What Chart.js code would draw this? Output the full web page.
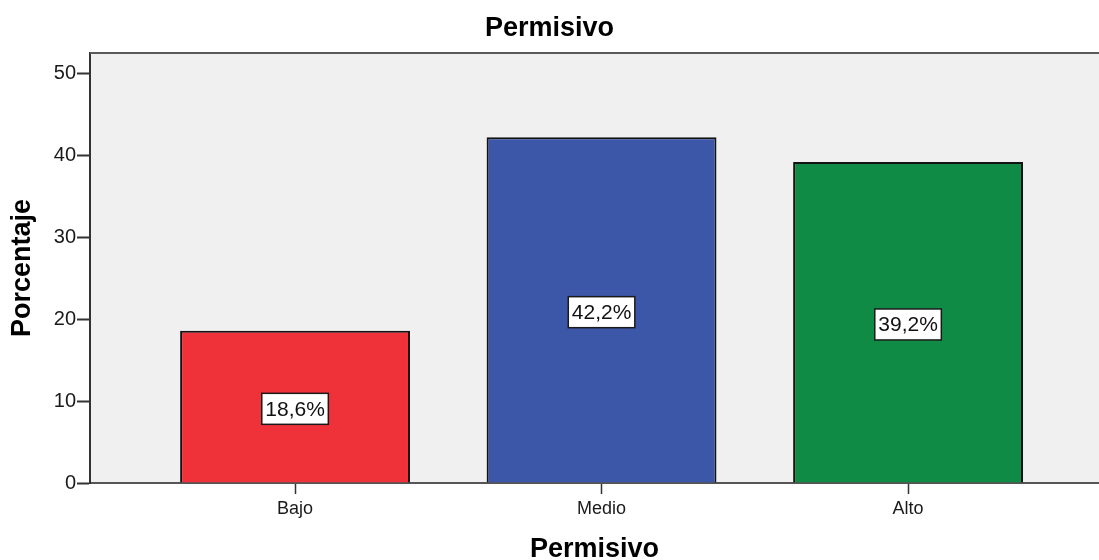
<!DOCTYPE html>
<html>
<head>
<meta charset="utf-8">
<script src="https://cdn.jsdelivr.net/npm/chart.js"></script>
<style>
  html, body { margin: 0; padding: 0; background: #fff; overflow: hidden; }
  #wrap { width: 1099px; height: 560px; position: relative; }
</style>
</head>
<body>
<div id="wrap"><canvas id="permisivoChart"></canvas></div>
<script>
// --- Data ---
const categories = ['Bajo', 'Medio', 'Alto'];
const porcentajes = [18.6, 42.2, 39.2];
const barColors = ['#EF313A', '#3D57A8', '#0F8B46'];
const yTickValues = [0, 10, 20, 30, 40, 50];

const FONT = "'Liberation Sans', Arial, sans-serif";

// Plot area background + top frame line
const plotFrame = {
    id: 'plotFrame',
    beforeDraw(chart) {
        const { ctx, chartArea: { left, top, width, height } } = chart;
        ctx.save();
        ctx.fillStyle = '#F0F0F0';
        ctx.fillRect(left, top, width, height);
        ctx.restore();
    },
    afterDraw(chart) {
        const { ctx, chartArea: { left, top, right } } = chart;
        ctx.save();
        ctx.strokeStyle = '#5a5a5a';
        ctx.lineWidth = 2;
        ctx.beginPath();
        ctx.moveTo(left, top);
        ctx.lineTo(right, top);
        ctx.stroke();
        ctx.restore();
    }
};

// Boxed percentage labels in the middle of each bar
const boxedLabels = {
    id: 'boxedLabels',
    afterDatasetsDraw(chart) {
        const { ctx } = chart;
        const meta = chart.getDatasetMeta(0);
        const yScale = chart.scales.y;
        ctx.save();
        ctx.font = '21px ' + FONT;
        ctx.textAlign = 'center';
        ctx.textBaseline = 'middle';
        meta.data.forEach((bar, i) => {
            const v = porcentajes[i];
            const text = v.toFixed(1).replace('.', ',') + '%';
            const cy = yScale.getPixelForValue(v / 2) + 2;
            const w = ctx.measureText(text).width + 7;
            const h = 31;
            ctx.fillStyle = '#ffffff';
            ctx.fillRect(bar.x - w / 2, cy - h / 2, w, h);
            ctx.strokeStyle = '#1a1a1a';
            ctx.lineWidth = 1.5;
            ctx.strokeRect(bar.x - w / 2, cy - h / 2, w, h);
            ctx.fillStyle = '#111';
            ctx.fillText(text, bar.x, cy + 1);
        });
        ctx.restore();
    }
};

new Chart(document.getElementById('permisivoChart'), {
    type: 'bar',
    data: {
        datasets: [{
            data: porcentajes.map((v, i) => ({ x: i + 1, y: v })),
            backgroundColor: barColors,
            borderColor: '#121212',
            borderWidth: 2,
            barPercentage: 0.75,
            categoryPercentage: 1
        }]
    },
    options: {
        responsive: true,
        maintainAspectRatio: false,
        animation: false,
        layout: { padding: 0 },
        scales: {
            x: {
                type: 'linear',
                min: 0.331,
                max: 3.623,
                offset: false,
                afterBuildTicks: (scale) => {
                    scale.ticks = categories.map((c, i) => ({ value: i + 1 }));
                },
                afterFit: (scale) => { scale.height = 77; },
                ticks: {
                    callback: (v) => categories[v - 1],
                    color: '#1a1a1a',
                    font: { family: FONT, size: 18 },
                    padding: 4,
                    maxRotation: 0
                },
                grid: {
                    offset: false,
                    drawOnChartArea: false,
                    drawTicks: true,
                    tickLength: 11,
                    tickColor: '#333',
                    tickWidth: 1.5
                },
                border: { display: true, color: '#555', width: 2 },
                title: {
                    display: true,
                    text: 'Permisivo',
                    color: '#000',
                    font: { family: FONT, size: 27, weight: 'bold', lineHeight: 0.8 },
                    padding: { top: 0, bottom: 0 }
                }
            },
            y: {
                min: 0,
                max: 52.5,
                afterBuildTicks: (scale) => {
                    scale.ticks = yTickValues.map(v => ({ value: v }));
                },
                afterFit: (scale) => { scale.width = 90; },
                ticks: {
                    color: '#1a1a1a',
                    font: { family: FONT, size: 20 },
                    padding: 1
                },
                grid: {
                    drawOnChartArea: false,
                    drawTicks: true,
                    tickLength: 13,
                    tickColor: '#333',
                    tickWidth: 2
                },
                border: { display: true, color: '#333', width: 2 },
                title: {
                    display: true,
                    text: 'Porcentaje',
                    color: '#000',
                    font: { family: FONT, size: 27, weight: 'bold' },
                    padding: { top: 6, bottom: 0 }
                }
            }
        },
        plugins: {
            legend: { display: false },
            tooltip: { enabled: false },
            title: {
                display: true,
                text: 'Permisivo',
                color: '#000',
                font: { family: FONT, size: 27, weight: 'bold' },
                padding: { top: 12, bottom: 8.6 }
            }
        }
    },
    plugins: [plotFrame, boxedLabels]
});
</script>
</body>
</html>
